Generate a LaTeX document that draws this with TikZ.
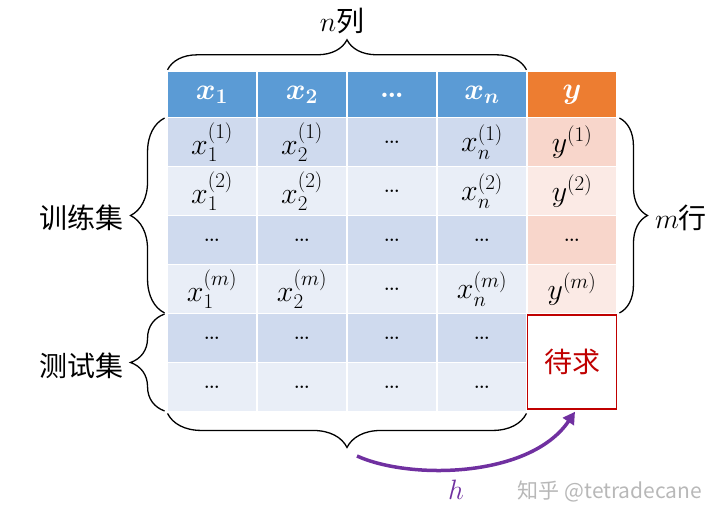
\RequirePackage{fix-cm}
\documentclass[tikz,border=0pt]{standalone}
\usepackage{amsmath}
\usepackage{fontspec}
\newfontfamily\cjk{Noto Sans CJK SC}
\usetikzlibrary{decorations.pathreplacing,arrows.meta}

\definecolor{headblue}{HTML}{5B9BD5}
\definecolor{headorange}{HTML}{ED7D31}
\definecolor{bluedark}{HTML}{CFDAEE}
\definecolor{bluelight}{HTML}{E9EEF7}
\definecolor{pinkdark}{HTML}{F8D6CB}
\definecolor{pinklight}{HTML}{FBEAE5}
\definecolor{pendred}{HTML}{C00000}
\definecolor{hpurple}{HTML}{7030A0}
\definecolor{wmgray}{HTML}{B8B8B8}

\tikzset{
    cell/.style={minimum width=88.5pt, minimum height=47.5pt, inner sep=0pt, font=\fontsize{30}{32}\selectfont},
    hblue/.style={cell, minimum height=45pt, fill=headblue, text=white},
    horange/.style={cell, minimum height=45pt, fill=headorange, text=white},
    xdark/.style={cell, fill=bluedark},
    xlight/.style={cell, fill=bluelight},
    ydark/.style={cell, fill=pinkdark},
    ylight/.style={cell, fill=pinklight},
    brc/.style={decorate, decoration={brace, amplitude=#1}, line width=1.3pt},
    brc/.default=30,
    cjklabel/.style={font=\fontsize{28}{30}\selectfont\cjk},
}

\begin{document}
\begin{tikzpicture}[x=1pt, y=-1pt]
    \useasboundingbox (0,0) rectangle (720,521);

    % Header
    \node[hblue] (h1) at (212,95) {$\boldsymbol{x_1}$};
    \node[hblue] (h2) at (302,95) {$\boldsymbol{x_2}$};
    \node[hblue] (h3) at (392,95) {\textbf{\ldots}};
    \node[hblue] (hn) at (482,95) {$\boldsymbol{x_n}$};
    \node[horange] (hy) at (572,95) {$\boldsymbol{y}$};

    % Training rows
    \node[xdark] (r1c1) at (212,142) {$x_1^{(1)}$};
    \node[xdark] (r1c2) at (302,142) {$x_2^{(1)}$};
    \node[xdark] (r1c3) at (392,142) {\ldots};
    \node[xdark] (r1c4) at (482,142) {$x_n^{(1)}$};
    \node[ydark] (r1c5) at (572,142) {$y^{(1)}$};

    \node[xlight] (r2c1) at (212,191) {$x_1^{(2)}$};
    \node[xlight] (r2c2) at (302,191) {$x_2^{(2)}$};
    \node[xlight] (r2c3) at (392,191) {\ldots};
    \node[xlight] (r2c4) at (482,191) {$x_n^{(2)}$};
    \node[ylight] (r2c5) at (572,191) {$y^{(2)}$};

    \node[xdark] (r3c1) at (212,240) {\ldots};
    \node[xdark] (r3c2) at (302,240) {\ldots};
    \node[xdark] (r3c3) at (392,240) {\ldots};
    \node[xdark] (r3c4) at (482,240) {\ldots};
    \node[ydark] (r3c5) at (572,240) {\ldots};

    \node[xlight] (r4c1) at (212,289) {$x_1^{(m)}$};
    \node[xlight] (r4c2) at (302,289) {$x_2^{(m)}$};
    \node[xlight] (r4c3) at (392,289) {\ldots};
    \node[xlight] (r4c4) at (482,289) {$x_n^{(m)}$};
    \node[ylight] (r4c5) at (572,289) {$y^{(m)}$};

    % Test rows
    \node[xdark] (r5c1) at (212,338) {\ldots};
    \node[xdark] (r5c2) at (302,338) {\ldots};
    \node[xdark] (r5c3) at (392,338) {\ldots};
    \node[xdark] (r5c4) at (482,338) {\ldots};

    \node[xlight] (r6c1) at (212,387) {\ldots};
    \node[xlight] (r6c2) at (302,387) {\ldots};
    \node[xlight] (r6c3) at (392,387) {\ldots};
    \node[xlight] (r6c4) at (482,387) {\ldots};

    \node[cell, minimum width=89pt, minimum height=94pt, fill=white, draw=pendred, line width=1.5pt, text=pendred, cjklabel] (pending) at (572,362) {待求};

    % Braces
    \draw[brc=30] ([yshift=2.5pt]h1.north west) -- ([yshift=2.5pt]hn.north east);
    \draw[brc=34] ([xshift=-3pt]r4c1.south west) -- ([xshift=-3pt]r1c1.north west);
    \draw[brc=34] ([xshift=-3pt]r6c1.south west) -- ([xshift=-3pt]r5c1.north west);
    \draw[brc=28] ([xshift=3pt]r1c5.north east) -- ([xshift=3pt]r4c5.south east);
    \draw[brc=34] ([yshift=-2.5pt]r6c4.south east) -- ([yshift=-2.5pt]r6c1.south west);

    % Labels
    \node[cjklabel] (ncol) at (342,21) {$n$列};
    \node[cjklabel] (train) at (81,218) {训练集};
    \node[cjklabel] (test) at (81,366) {测试集};
    \node[cjklabel] (mrow) at (681,218) {$m$行};

    % Mapping h
    \coordinate (hstart) at (357,456);
    \draw[hpurple, line width=3.5pt, -{Triangle[length=12pt,width=13pt]}] (hstart) .. controls (410,480) and (530,478) .. ([xshift=3pt,yshift=-2pt]pending.south);
    \node[font=\fontsize{28}{30}\selectfont, text=hpurple] (hlab) at (456,490) {$h$};

    \node[font=\fontsize{21}{22}\selectfont\cjk, text=wmgray] (wm) at (610,491) {知乎 @tetradecane};
\end{tikzpicture}
\end{document}
